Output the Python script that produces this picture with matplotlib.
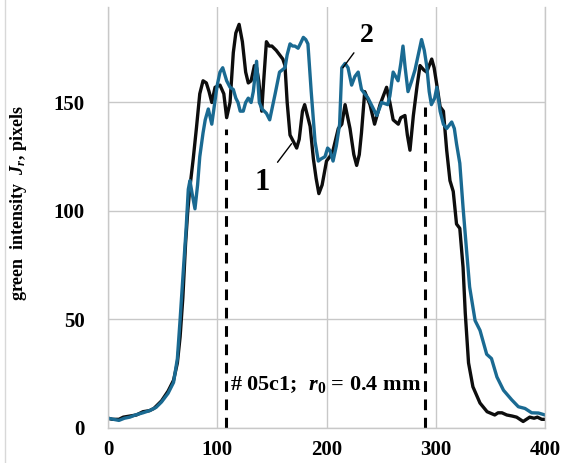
import matplotlib.pyplot as plt
from matplotlib.lines import Line2D

plt.rcParams['font.family'] = ['Liberation Serif', 'DejaVu Serif']
plt.rcParams['font.weight'] = 'bold'
plt.rcParams['mathtext.fontset'] = 'custom'
plt.rcParams['mathtext.rm'] = 'Liberation Serif:bold'
plt.rcParams['mathtext.it'] = 'Liberation Serif:italic:bold'
plt.rcParams['mathtext.bf'] = 'Liberation Serif:bold'

# curve 1 (black)
x1 = [0, 4, 10, 14, 20, 26, 32, 38, 42, 49, 55, 60, 63.5, 66, 68.5, 71, 73, 75, 78, 81,
      84, 87, 90, 92.5, 95, 98, 102.5, 106, 108.6, 111.7, 114.7, 117, 120, 123, 126, 128.4,
      131, 134, 136, 138, 140.7, 142.5, 145, 147.5, 150, 154, 157, 160, 162, 164, 166.6,
      169.7, 172.7, 175, 178, 180, 183, 185, 188, 190.5, 193, 196, 200, 203, 206, 210.8,
      214, 217, 221.5, 225, 227.6, 230, 232, 235, 239.8, 244, 249, 255, 258, 261, 265.7,
      268, 271.8, 274, 276.4, 279.5, 283, 285.6, 289, 291.7, 294, 296.3, 298.5, 301, 304,
      307, 310, 313, 316, 319, 322, 325, 327, 330, 334, 340.5, 347, 354, 357, 360.6, 365,
      370, 374, 380, 383, 386, 390, 393, 397, 400]
y1 = [4.5, 4, 4, 5, 5.5, 6, 7.5, 8, 9, 12.5, 17, 22, 30, 42, 60, 85, 100, 111, 124, 138.5,
      154, 160, 159, 155, 150, 157, 158, 154, 143, 150, 173, 182, 186, 178, 164, 159,
      160, 167, 166, 160, 146, 160, 178, 176, 176, 174, 172, 170, 167, 150, 135,
      132, 129, 133, 146, 149, 143, 139, 124, 115, 108, 112, 123, 125, 128, 138,
      140, 149, 138, 126, 121, 126, 136, 155, 149, 140, 149, 157, 150, 142, 140,
      143, 144, 135, 128, 144, 158, 167, 165, 164, 167, 170, 166, 158, 148,
      146, 128, 114, 109, 94, 92, 74, 53, 30, 19, 11.5, 7.5, 6, 7, 7, 6,
      5.5, 5, 3, 4, 5, 4.5, 5, 4, 4]

# curve 2 (blue)
x2 = [0, 5, 10, 15, 20, 25, 32, 38, 44, 49, 55, 60, 63.5, 66, 69, 71.4, 73.5, 75, 77, 79.6,
      82, 84, 87, 89, 91.8, 95, 98, 100, 102.5, 105, 108.6, 111.7, 114.7, 117, 119, 121,
      123.8, 126, 128.4, 131, 133, 136, 138.5, 141, 145, 148, 150.5, 153, 157, 162, 164,
      166.6, 169, 171, 174, 176, 178.8, 181, 183, 186, 189.5, 192.5, 195, 198.6, 201, 203,
      206, 209, 212, 214, 217, 219.7, 223, 226, 229, 232, 235, 238, 242, 246, 250.5, 256,
      258, 261, 265.5, 268, 270, 272, 274.6, 278, 281, 284, 287, 289.5, 291.7, 294, 296,
      299, 301, 304, 307, 310, 314.6, 317, 319, 322, 325, 328, 331, 336, 340.5, 346.6, 351,
      356, 362, 369.5, 375.6, 381.7, 387.8, 394, 400]
y2 = [4.5, 4, 3.5, 4.5, 5, 6, 7, 8, 9.5, 12, 16, 21, 32, 50, 73, 91, 110, 114, 108, 101,
      112, 125, 136, 142, 147, 140, 151, 158, 164, 166, 160, 157, 156, 152, 150, 146,
      146, 150, 152, 150, 155, 169, 150, 147, 145, 142, 148, 154, 164, 166, 172,
      177, 176, 176, 175, 177, 180, 179, 177, 155, 132, 123, 124, 125, 129, 128,
      123, 130, 140, 166, 168, 166, 158, 162, 164, 156, 154, 152, 148, 144, 150, 149,
      153, 164, 160, 168, 176, 166, 155, 160, 165, 172, 179, 174, 167, 155, 149,
      152, 157, 146, 140, 138, 141, 138, 131, 122, 101.5, 83, 65, 49.5, 45, 34, 32,
      23.5, 17.4, 13, 9.8, 9, 7, 6.9, 6]

# dashed markers
dash_x = [108, 290]
dash_top = [138, 148]

xticks = [0, 100, 200, 300, 400]
yticks = [0, 50, 100, 150]

fig = plt.figure(figsize=(5.76, 4.63), dpi=100)
ax = fig.add_axes([0.1875, 0.0756, 0.7587, 0.9093])

grid_c = '#c8c8c8'
ax.set_xlim(0, 400)
ax.set_ylim(0, 194)
ax.set_xticks(xticks)
ax.set_yticks(yticks)
ax.grid(True, color=grid_c, linewidth=1.0)
ax.set_axisbelow(True)
ax.spines['top'].set_visible(False)
for s in ['left', 'bottom', 'right']:
    ax.spines[s].set_color(grid_c)
    ax.spines[s].set_linewidth(1.0)
ax.tick_params(length=0, labelsize=15)
ax.tick_params(axis='y', pad=17)
ax.tick_params(axis='x', pad=9)
for lab in ax.get_xticklabels() + ax.get_yticklabels():
    lab.set_fontweight('bold')

for xd, yt in zip(dash_x, dash_top):
    ax.plot([xd, xd], [0, yt], color='black', linewidth=2.2, dashes=(3.5, 2.5))

ax.plot(x1, y1, color='#0d0d0d', linewidth=2.4, solid_joinstyle='round')
ax.plot(x2, y2, color='#1a6a92', linewidth=2.4, solid_joinstyle='round')

ax.set_ylabel(r'green  intensity  $J_r$, pixels', fontsize=13, fontweight='bold')
ax.yaxis.set_label_coords(-0.18, 0.535)

ax.text(199, 20, r'# 05c1;  $r_0$ = 0.4 mm', fontsize=16, fontweight='bold', ha='center', va='center')

ax.annotate('1', xy=(168, 131), xytext=(141, 113), fontsize=22, fontweight='bold',
            ha='center', va='center',
            arrowprops=dict(arrowstyle='-', color='black', lw=1.0, shrinkA=6, shrinkB=0))
ax.annotate('2', xy=(215, 166), xytext=(237, 181), fontsize=20, fontweight='bold',
            ha='center', va='center',
            arrowprops=dict(arrowstyle='-', color='black', lw=1.0, shrinkA=4, shrinkB=0))

fig.add_artist(Line2D([0.008, 0.008], [0.0, 1.0], color='#d8d8d8', linewidth=1.0))

plt.savefig('out.png', dpi=100)
